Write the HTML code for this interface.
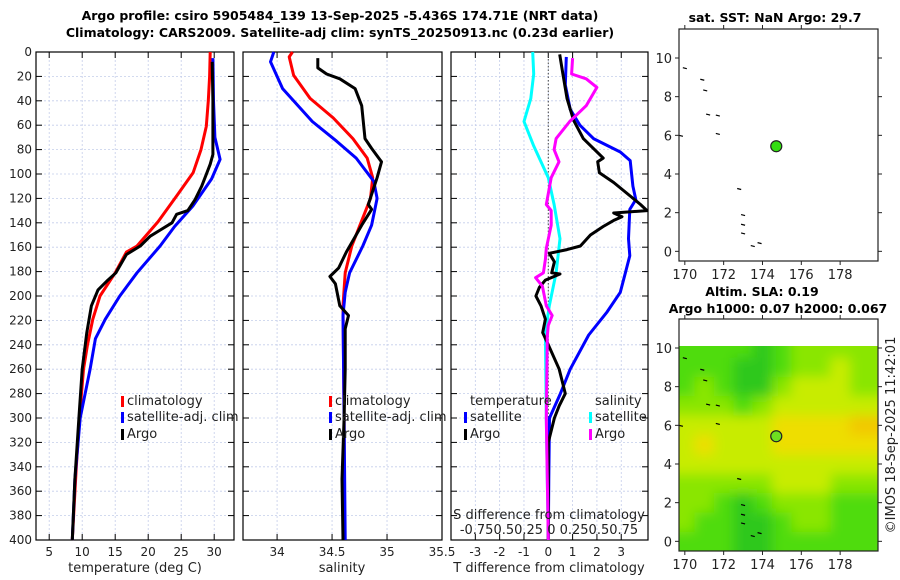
<!DOCTYPE html>
<html><head><meta charset="utf-8">
<style>
body{margin:0;background:#fff;}
svg{display:block;font-family:"DejaVu Sans","Liberation Sans",sans-serif;}
.t{font-size:12px;fill:#222;}
.b{font-weight:bold;font-size:12.5px;fill:#000;}
</style></head><body>
<svg id="fig" width="900" height="580" viewBox="0 0 900 580" xmlns="http://www.w3.org/2000/svg">
<defs>
<filter id="blur" x="-5%" y="-5%" width="110%" height="110%"><feGaussianBlur stdDeviation="6"/></filter>
<clipPath id="mapclip"><rect x="679" y="346" width="199" height="205"/></clipPath>
</defs>
<rect width="900" height="580" fill="#fff"/>
<text class="b" x="340" y="20" text-anchor="middle">Argo profile: csiro 5905484_139 13-Sep-2025 -5.436S 174.71E (NRT data)</text>
<text class="b" x="340" y="37" text-anchor="middle">Climatology: CARS2009. Satellite-adj clim: synTS_20250913.nc (0.23d earlier)</text>
<g id="g"></g>
</svg>
<script>
// ---- data ----
const depthTicks=[0,20,40,60,80,100,120,140,160,180,200,220,240,260,280,300,320,340,360,380,400];
const tTicks=[5,10,15,20,25,30];
const sTicks=[34,34.5,35,35.5];
const dTicks=[-3,-2,-1,0,1,2,3];
const tClimD=[0,20,40,61,80,99,118,139,159,164,181,200,219,240,260,280,300,340,400];
const tClimV=[29.4,29.3,29.1,28.8,28.0,26.8,24.3,21.5,18.3,16.7,15.0,12.7,11.6,10.8,10.2,9.9,9.6,9.1,8.5];
const tSatD=[5,40,70,88,104,126,143,159,181,200,219,235,260,300,350,400];
const tSatV=[29.8,29.9,30.1,30.9,29.6,26.8,24.0,21.8,18.3,15.7,13.5,12.0,11.2,9.7,8.9,8.5];
const tArgoD=[8,40,84,92,99,110,121,130,133,140,146,151,159,166,181,187,195,208,230,260,300,350,400];
const tArgoV=[29.7,29.8,29.8,29.4,28.9,28.1,27.1,26.0,24.3,23.6,21.8,20.3,18.8,16.7,15.1,13.9,12.4,11.4,10.7,10.0,9.5,8.9,8.5];
const sClimD=[0,4,19,38,54,71,87,103,120,136,159,181,208,300,400];
const sClimV=[34.14,34.11,34.15,34.30,34.51,34.69,34.82,34.87,34.85,34.78,34.68,34.62,34.60,34.61,34.61];
const sSatD=[0,8,30,57,73,87,106,120,142,159,181,197,216,300,400];
const sSatV=[33.97,33.94,34.05,34.32,34.54,34.72,34.88,34.91,34.86,34.78,34.66,34.62,34.60,34.61,34.62];
const sArgoD=[5,13,18,22,30,44,71,79,90,103,125,129,142,164,177,184,190,208,216,227,260,300,350,400];
const sArgoV=[34.37,34.37,34.45,34.57,34.71,34.77,34.80,34.86,34.95,34.91,34.83,34.86,34.77,34.63,34.56,34.48,34.53,34.57,34.65,34.62,34.62,34.61,34.59,34.60];
const dTSatD=[4,27,47,60,71,82,89,110,121,129,153,167,181,197,213,232,260,280,300,350,400];
const dTSatV=[0.74,0.70,0.90,1.30,1.86,2.96,3.37,3.48,3.60,3.35,3.30,3.35,3.17,2.96,2.42,1.66,0.9,0.5,0.05,0.02,0.0];
const dTArgoD=[2,18,38,56,71,87,90,99,107,118,125,130,132,135,138,143,150,159,162,165,172,181,182,187,193,200,208,219,230,240,260,280,290,300,320,360,400];
const dTArgoV=[0.47,0.60,0.77,1.04,1.44,2.26,2.03,2.10,2.69,3.37,3.79,4.06,2.69,3.03,2.69,2.26,1.73,1.32,0.77,0.04,0.25,0.14,0.48,-0.12,-0.37,-0.51,-0.30,-0.12,-0.23,0.0,0.45,0.7,0.45,0.25,0.0,0.0,0.0];
const dSSatD=[0,18,38,57,77,103,125,153,181,208,230,300,400];
const dSSatV=[-0.16,-0.15,-0.18,-0.25,-0.15,0.0,0.06,0.12,0.08,0.01,-0.03,-0.02,0.0];
const dSArgoD=[5,18,22,29,44,57,71,80,90,103,125,130,142,161,170,181,185,192,208,216,224,233,300,400];
const dSArgoV=[0.25,0.24,0.39,0.50,0.39,0.22,0.08,0.06,0.11,0.03,-0.02,0.03,0.03,-0.02,-0.03,-0.05,-0.13,-0.06,-0.02,0.04,0.0,-0.01,-0.02,0.0];
const lonTicks=[170,172,174,176,178];
const latTicks=[0,2,4,6,8,10];
const argoLon=174.71, argoLat=5.436;
const slaLats=[10,9,8,7,6,5,4,3,2,1,0];
const slaLons=[170,171,172,173,174,175,176,177,178,179];
const slaGrid=[
[1,1,1,1,0,1,2,2,2,2],
[1,1,1,0,0,1,2,2,3,2],
[1,2,1,0,0,2,3,3,3,2],
[2,2,2,1,2,3,3,3,3,3],
[3,3,3,3,3,4,4,4,4,5],
[3,4,3,3,3,4,4,4,4,4],
[3,3,3,3,3,3,3,3,3,3],
[2,2,2,2,2,3,3,3,2,2],
[2,2,1,0,1,2,2,2,1,1],
[2,1,1,0,0,1,2,2,1,1],
[1,1,1,0,0,1,1,1,1,1]];
const slaColors=['#2ec81e','#4fdc0a','#8ae600','#c8ec00','#eede00','#f2c800'];

const NS='http://www.w3.org/2000/svg';
const G=document.getElementById('g');
function el(tag,attrs,parent){const e=document.createElementNS(NS,tag);for(const k in attrs)e.setAttribute(k,attrs[k]);(parent||G).appendChild(e);return e;}
const top0=52,bot0=540;
const yD=d=>top0+(bot0-top0)*d/400;
const panels=[
 {x0:36,x1:234,min:3,max:33,ticks:tTicks,name:'temperature-panel'},
 {x0:243,x1:442,min:33.69,max:35.5,ticks:sTicks,name:'salinity-panel'},
 {x0:451,x1:648,min:-4,max:4.1,ticks:dTicks,name:'difference-panel'}];
panels.forEach(p=>{p.sx=v=>p.x0+(p.x1-p.x0)*(v-p.min)/(p.max-p.min);});
const sxS=v=>panels[2].sx(v*4);

panels.forEach((p,i)=>{
  const grp=el('g',{});
  
  
  depthTicks.forEach(d=>{const y=yD(d);
    const gl=el('line',{x1:p.x0,x2:p.x1,y1:y,y2:y,stroke:'#c4cdea','stroke-width':0.8,'stroke-dasharray':'2,2'},grp);
    
    el('line',{x1:p.x0,x2:p.x0+6,y1:y,y2:y,stroke:'#000'},grp);
    el('line',{x1:p.x1-6,x2:p.x1,y1:y,y2:y,stroke:'#000'},grp);
    if(i===0){const t=el('text',{x:p.x0-4,y:y+4,'text-anchor':'end',class:'t'},grp);t.textContent=d;
      }
  });
  p.ticks.forEach(v=>{const x=p.sx(v);
    const gl=el('line',{x1:x,x2:x,y1:top0,y2:bot0,stroke:'#c4cdea','stroke-width':0.8,'stroke-dasharray':'2,2'},grp);
    
    el('line',{x1:x,x2:x,y1:bot0-6,y2:bot0,stroke:'#000'},grp);
    el('line',{x1:x,x2:x,y1:top0,y2:top0+6,stroke:'#000'},grp);
    const t=el('text',{x:x,y:556,'text-anchor':'middle',class:'t'},grp);t.textContent=v;
    
  });
  const fr=el('rect',{x:p.x0,y:top0,width:p.x1-p.x0,height:bot0-top0,fill:'none',stroke:'#000','stroke-width':1.2},grp);
  
});
const zl=el('line',{x1:panels[2].sx(0),x2:panels[2].sx(0),y1:top0,y2:bot0,stroke:'#444','stroke-dasharray':'1.5,2'});


function line(D,V,sx,color,name){
  const pts=D.map((d,k)=>sx(V[k]).toFixed(1)+','+yD(d).toFixed(1)).join(' ');
  const e=el('polyline',{points:pts,fill:'none',stroke:color,'stroke-width':3,'stroke-linejoin':'round'});
  
  
}
const P0=panels[0].sx,P1=panels[1].sx,P2=panels[2].sx;
line(tClimD,tClimV,P0,'#ff0000','temp-climatology-line');
line(tSatD,tSatV,P0,'#0000ff','temp-satellite-line');
line(tArgoD,tArgoV,P0,'#000','temp-argo-line');
line(sClimD,sClimV,P1,'#ff0000','sal-climatology-line');
line(sSatD,sSatV,P1,'#0000ff','sal-satellite-line');
line(sArgoD,sArgoV,P1,'#000','sal-argo-line');
line(dSSatD,dSSatV,sxS,'#00ffff','sdiff-satellite-line');
line(dTSatD,dTSatV,P2,'#0000ff','tdiff-satellite-line');
line(dTArgoD,dTArgoV,P2,'#000','tdiff-argo-line');
line(dSArgoD,dSArgoV,sxS,'#ff00ff','sdiff-argo-line');

function txt(x,y,s,name,extra){const t=el('text',Object.assign({x:x,y:y,class:'t'},extra||{}));t.textContent=s;
  return t;}
function legend(x,y,color,s,name){
  const m=el('rect',{x:x,y:y-9,width:3,height:11,fill:color});
  
  txt(x+6,y,s,name,{style:'font-size:13px'});
}
legend(121,405,'#ff0000','climatology','legend-climatology');
legend(121,421,'#0000ff','satellite-adj. clim','legend-satellite');
legend(121,438,'#000','Argo','legend-argo');
legend(329,405,'#ff0000','climatology','legend2-climatology');
legend(329,421,'#0000ff','satellite-adj. clim','legend2-satellite');
legend(329,438,'#000','Argo','legend2-argo');
txt(470,405,'temperature','legend-temperature-heading',{style:'font-size:13px'});
txt(595,405,'salinity','legend-salinity-heading',{style:'font-size:13px'});
legend(464,421,'#0000ff','satellite','legend-tdiff-satellite');
legend(464,438,'#000','Argo','legend-tdiff-argo');
legend(589,421,'#00ffff','satellite','legend-sdiff-satellite');
legend(589,438,'#ff00ff','Argo','legend-sdiff-argo');
txt(549,519,'S difference from climatology','sdiff-axis-title',{'text-anchor':'middle',style:'font-size:13px'});
txt(549,534,'-0.750.50.25 0 0.250.50.75','sdiff-tick-labels',{'text-anchor':'middle',style:'font-size:13px'});
txt(135,572,'temperature (deg C)','temp-axis-title',{'text-anchor':'middle',style:'font-size:13px'});
txt(342,572,'salinity','sal-axis-title',{'text-anchor':'middle',style:'font-size:13px'});
txt(549,572,'T difference from climatology','tdiff-axis-title',{'text-anchor':'middle',style:'font-size:13px'});

const mx0=679,mx1=878;
const lonX=lo=>mx0+(mx1-mx0)*(lo-169.7)/(179.95-169.7);
const maps=[{top:29,bot:261,name:'sst-map'},{top:319,bot:551,name:'sla-map'}];
maps.forEach(m=>{m.latY=la=>m.bot-(m.bot-m.top)*(la+0.5)/12;});
const M=maps[1];
const clipG=el('g',{'clip-path':'url(#mapclip)'});

const cg=el('g',{filter:'url(#blur)'},clipG);

slaLats.forEach((la,r)=>slaLons.forEach((lo,c)=>{
  let x0=lonX(lo-0.5),x1=lonX(lo+0.5);
  let y0=M.latY(la+0.5),y1=M.latY(la-0.5);
  if(c===0)x0-=20; if(c===slaLons.length-1)x1+=20;
  if(r===0)y0-=20; if(r===slaLats.length-1)y1+=20;
  const rc=el('rect',{x:x0,y:y0,width:x1-x0+0.5,height:y1-y0+0.5,fill:slaColors[slaGrid[r][c]]},cg);
  
  
}));
const coast=[[170,9.5],[170.9,8.9],[171.05,8.35],[171.2,7.1],[171.7,7.05],[171.7,6.1],[169.8,6.0],[172.8,3.25],[173,1.9],[173,1.4],[173,0.95],[173.5,0.3],[173.85,0.45]];
maps.forEach((m,i)=>{
  const grp=el('g',{});
  
  coast.forEach(c=>{const k=el('line',{x1:lonX(c[0])-2,x2:lonX(c[0])+2,y1:m.latY(c[1]),y2:m.latY(c[1])+1,stroke:'#000','stroke-width':1.2},grp);
    });
  el('rect',{x:mx0,y:m.top,width:mx1-mx0,height:m.bot-m.top,fill:'none',stroke:'#222','stroke-width':1.2},grp);
  lonTicks.forEach(lo=>{const x=lonX(lo);
    el('line',{x1:x,x2:x,y1:m.bot,y2:m.bot+4,stroke:'#222'},grp);
    el('line',{x1:x,x2:x,y1:m.top,y2:m.top-4,stroke:'#222'},grp);
    const t=el('text',{x:x,y:m.bot+18,'text-anchor':'middle',class:'t',style:'font-size:13px'},grp);t.textContent=lo;
    });
  latTicks.forEach(la=>{const y=m.latY(la);
    el('line',{x1:mx0-4,x2:mx0,y1:y,y2:y,stroke:'#222'},grp);
    el('line',{x1:mx1,x2:mx1+4,y1:y,y2:y,stroke:'#222'},grp);
    const t=el('text',{x:mx0-7,y:y+5,'text-anchor':'end',class:'t',style:'font-size:13px'},grp);t.textContent=la;
    });
  const c=el('circle',{cx:lonX(argoLon),cy:m.latY(argoLat),r:5.5,fill:i?'#6ee020':'#33dd11',stroke:'#222','stroke-width':1.2},grp);
  
});
const b1=txt(775,22,'sat. SST: NaN Argo: 29.7','sst-map-title',{'text-anchor':'middle'});b1.setAttribute('class','b');
const b2=txt(762,296,'Altim. SLA: 0.19','sla-map-title',{'text-anchor':'middle'});b2.setAttribute('class','b');
const b3=txt(778,313,'Argo h1000: 0.07 h2000: 0.067','sla-map-subtitle',{'text-anchor':'middle'});b3.setAttribute('class','b');
txt(895,435,'©IMOS 18-Sep-2025 11:42:01','imos-timestamp',{'text-anchor':'middle',transform:'rotate(-90 895 435)',style:'font-size:13px'});
</script>
</body></html>
